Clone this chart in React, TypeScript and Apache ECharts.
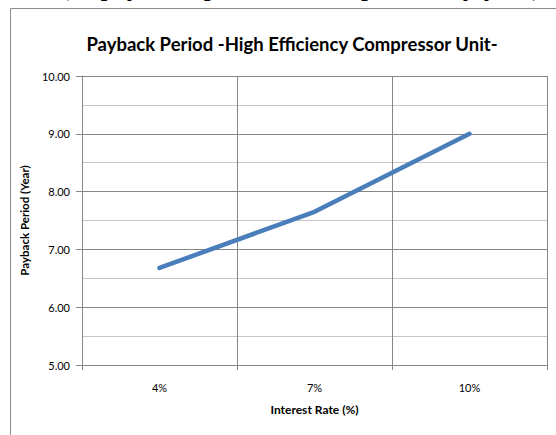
import React, { useEffect, useRef } from "react";
import * as echarts from "echarts";

const categories = ["4%", "7%", "10%"];
const paybackYears = [6.68, 7.65, 9.0];
const yTicks = { min: 5, max: 10, interval: 1 };

const FONT = 'Lato, "Open Sans", sans-serif';

export default function App() {
  const ref = useRef<HTMLDivElement>(null);
  useEffect(() => {
    if (!ref.current) return;
    const chart = echarts.init(ref.current, null, { renderer: "svg" });
    chart.setOption({
      animation: false,
      backgroundColor: "#ffffff",
      title: {
        text: "Payback Period -High Efficiency Compressor Unit-",
        left: 287,
        top: 29,
        textAlign: "center",
        textStyle: { fontFamily: FONT, fontSize: 18.5, fontWeight: "bold", color: "#000" },
      },
      graphic: [
        {
          type: "rect",
          shape: { x: 10.5, y: 8.5, width: 600, height: 500 },
          style: { fill: "none", stroke: "#8c8c8c", lineWidth: 1 },
          silent: true,
        },
        {
          type: "text",
          x: 60,
          y: -1,
          style: {
            text: "(Repayment period of compressor by year)",
            font: '28px "Liberation Serif", serif',
            fill: "#000",
            verticalAlign: "bottom",
          },
          silent: true,
        },
      ],
      grid: { left: 82, top: 76, right: 9, bottom: 70 },
      xAxis: {
        type: "category",
        data: categories,
        boundaryGap: true,
        name: "Interest Rate (%)",
        nameLocation: "middle",
        nameGap: 38,
        nameTextStyle: { fontFamily: FONT, fontSize: 12, fontWeight: "bold", color: "#000", verticalAlign: "top" },
        axisLine: { lineStyle: { color: "#868686", width: 1 } },
        axisTick: { show: true, length: 5, lineStyle: { color: "#868686" } },
        axisLabel: { fontFamily: FONT, fontSize: 11, color: "#000", margin: 17 },
        splitLine: { show: true, lineStyle: { color: "#868686", width: 1 } },
      },
      yAxis: {
        type: "value",
        min: yTicks.min,
        max: yTicks.max,
        interval: yTicks.interval,
        name: "Payback Period (Year)",
        nameLocation: "middle",
        nameGap: 33,
        nameTextStyle: { fontFamily: FONT, fontSize: 11.5, fontWeight: "bold", color: "#000" },
        axisLine: { show: true, lineStyle: { color: "#868686", width: 1 } },
        axisTick: { show: true, length: 6, lineStyle: { color: "#868686" } },
        axisLabel: {
          fontFamily: FONT,
          fontSize: 11,
          color: "#000",
          margin: 12,
          formatter: (v: number) => v.toFixed(2),
        },
        splitLine: { show: true, lineStyle: { color: "#868686", width: 1 } },
        minorTick: { show: false, splitNumber: 2 },
        minorSplitLine: { show: true, lineStyle: { color: "#c6c6c6", width: 1 } },
      },
      series: [
        {
          type: "line",
          data: paybackYears,
          showSymbol: false,
          symbol: "none",
          lineStyle: { color: "#4a7ebb", width: 4.5, cap: "round", join: "round" },
          itemStyle: { color: "#4a7ebb" },
        },
      ],
    });
    return () => chart.dispose();
  }, []);
  return (
    <div
      ref={ref}
      style={{ position: "absolute", left: 0, top: 0, width: 556, height: 435 }}
    />
  );
}
